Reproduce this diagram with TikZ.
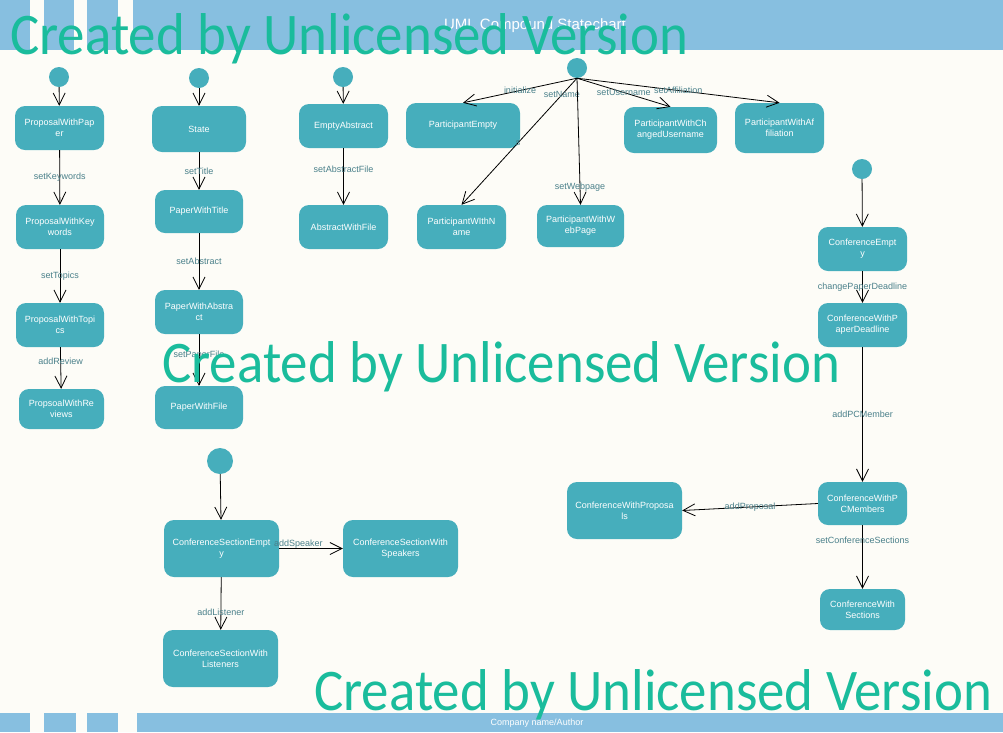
\documentclass[tikz,border=0pt]{standalone}
\usepackage{fontspec}
\setmainfont{Liberation Sans}
\newfontfamily\wmfont{Carlito}
\usetikzlibrary{arrows.meta}
\definecolor{bgcream}{RGB}{253,252,247}
\definecolor{bandblue}{RGB}{135,191,224}
\definecolor{statefill}{RGB}{70,174,188}
\definecolor{lbltext}{RGB}{74,128,138}
\definecolor{wmgreen}{RGB}{26,188,156}
\newcommand{\wmtext}{\scalebox{0.931}[1]{Created by Unlicensed Version}}

\begin{document}
\begin{tikzpicture}[x=1pt, y=-1pt,
  % rounded state boxes, text broken by hand with \\
  statebox/.style={rectangle, fill=statefill, text=white, rounded corners=10pt,
                   minimum width=89pt, minimum height=44pt, align=center,
                   inner sep=1pt, font=\fontsize{9}{11}\selectfont},
  initdot/.style={circle, fill=statefill, minimum size=20pt, inner sep=0pt},
  arr/.style={-{Straight Barb[length=12pt,width=12pt]}, line width=0.8pt, draw=black},
  lbl/.style={font=\fontsize{9}{11}\selectfont, text=lbltext, inner sep=0pt},
  band/.style={fill=bandblue, draw=none},
  wm/.style={font=\wmfont\fontsize{59}{60}\selectfont, text=wmgreen, inner sep=0pt}
]

% Page
\useasboundingbox (0,0) rectangle (1003,732);
\fill[bgcream] (0,0) rectangle (1003,732);

% Header and footer bands
\fill[band] (0,0) rectangle (30,50);
\fill[band] (44,0) rectangle (74,50);
\fill[band] (87,0) rectangle (118,50);
\fill[band] (133,0) rectangle (1003,50);
\fill[band] (0,713) rectangle (30,732);
\fill[band] (44,713) rectangle (76,732);
\fill[band] (87,713) rectangle (118,732);
\fill[band] (137,713) rectangle (1003,732);
\node[text=white, font=\fontsize{15}{18}\selectfont] (title) at (535,26) {UML Compound Statechart};
\node[text=white, font=\fontsize{9}{11}\selectfont] (author) at (537,723) {Company name/Author};

% Proposal
\node[initdot] (pinit) at (59,77) {};
\node[statebox] (proposal) at (59.5,128) {ProposalWithPap\\er};
\node[statebox, minimum width=88pt] (keywords) at (60,227) {ProposalWithKey\\words};
\node[statebox, minimum width=88pt] (topics)   at (60,325) {ProposalWithTopi\\cs};
\node[statebox, minimum width=85pt, minimum height=40pt] (reviews) at (61.5,409) {PropsoalWithRe\\views};

% Paper
\node[initdot] (sinit) at (199,78) {};
\node[statebox, minimum width=94pt, minimum height=46pt] (state) at (199,129) {State};
\node[statebox, minimum width=88pt, minimum height=43pt] (title1) at (199,211.5) {PaperWithTitle};
\node[statebox, minimum width=88pt] (abstract) at (199,312) {PaperWithAbstra\\ct};
\node[statebox, minimum width=88pt, minimum height=43pt] (file) at (199,407.5) {PaperWithFile};

% Abstract
\node[initdot] (ainit) at (343,77) {};
\node[statebox] (emptyabs) at (343.5,126) {EmptyAbstract};
\node[statebox] (absfile)  at (343.5,227) {AbstractWithFile};

% Participant
\node[initdot] (partinit) at (577,68) {};
\node[statebox, minimum width=114pt, minimum height=45pt] (partempty) at (463,125.5) {ParticipantEmpty};
\node[statebox] (partname) at (461.5,227) {ParticipantWIthN\\ame};
\node[statebox, minimum width=87pt, minimum height=42pt] (partweb) at (580.5,226) {ParticipantWithW\\ebPage};
\node[statebox, minimum width=93pt, minimum height=46pt] (partuser) at (670.5,130) {ParticipantWithCh\\angedUsername};
\node[statebox, minimum height=50pt] (partaff) at (779.5,128) {ParticipantWithAf\\filiation};

% Conference
\node[initdot] (cinit) at (862,169) {};
\node[statebox] (confempty)    at (862.5,249) {ConferenceEmpt\\y};
\node[statebox] (confdeadline) at (862.5,325) {ConferenceWithP\\aperDeadline};
\node[statebox, minimum height=43pt] (confpc) at (862.5,503.5) {ConferenceWithP\\CMembers};
\node[statebox, minimum width=85pt, minimum height=41pt] (confsect) at (862.5,609.5) {ConferenceWith\\Sections};
\node[statebox, minimum width=115pt, minimum height=57pt] (confprop) at (624.5,510.5) {ConferenceWithProposa\\ls};

% Conference section
\node[initdot, minimum size=26pt] (csinit) at (220,461) {};
\node[statebox, minimum width=115pt, minimum height=57pt] (csempty)   at (221.5,548.5) {ConferenceSectionEmpt\\y};
\node[statebox, minimum width=115pt, minimum height=57pt] (csspeak)   at (400.5,548.5) {ConferenceSectionWith\\Speakers};
\node[statebox, minimum width=115pt, minimum height=57pt] (cslisten)  at (220.5,658.5) {ConferenceSectionWith\\Listeners};

% Transitions
\draw[arr] (pinit) -- (proposal);
\draw[arr] (proposal) -- node[lbl]{setKeywords} (keywords);
\draw[arr] (keywords) -- node[lbl]{setTopics} (topics);
\draw[arr] (topics) -- node[lbl, pos=0.35]{addReview} (reviews);

\draw[arr] (sinit) -- (state);
\draw[arr] (state) -- node[lbl]{setTitle} (title1);
\draw[arr] (title1) -- node[lbl]{setAbstract} (abstract);
\draw[arr] (abstract) -- node[lbl, pos=0.4]{setPaperFile} (file);

\draw[arr] (ainit) -- (emptyabs);
\draw[arr] (emptyabs) -- node[lbl, pos=0.37]{setAbstractFile} (absfile);

\draw[arr] (partinit.south) -- node[lbl]{initialize} (partempty.north);
\draw[arr] (partinit.south) -- node[lbl, pos=0.13]{setName} node[lbl, pos=0.51]{s} (partname.north);
\draw[arr] (partinit.south) -- node[lbl, pos=0.86]{setWebpage} (partweb.north);
\draw[arr] (partinit.south) -- node[lbl]{setUsername} (partuser.north);
\draw[arr] (partinit.south) -- node[lbl]{setAffiliation} (partaff.north);

\draw[arr] (cinit) -- (confempty);
\draw[arr] (confempty) -- node[lbl]{changePaperDeadline} (confdeadline);
\draw[arr] (confdeadline) -- node[lbl]{addPCMember} (confpc);
\draw[arr] (confpc) -- node[lbl, pos=0.23]{setConferenceSections} (confsect);
\draw[arr] (confpc.west) -- node[lbl]{addProposal} (confprop.east);

\draw[arr] (csinit) -- (csempty);
\draw[arr] (csempty) -- node[lbl, pos=0.3, yshift=4pt]{addSpeaker} (csspeak);
\draw[arr] (csempty) -- node[lbl, pos=0.66]{addListener} (cslisten);

% Watermark
\node[wm, anchor=base west] (wmtop) at (10,54)  {\wmtext};
\node[wm, anchor=base west] (wmmid) at (162,382) {\wmtext};
\node[wm, anchor=base west] (wmbot) at (314,710) {\wmtext};

\end{tikzpicture}
\end{document}
